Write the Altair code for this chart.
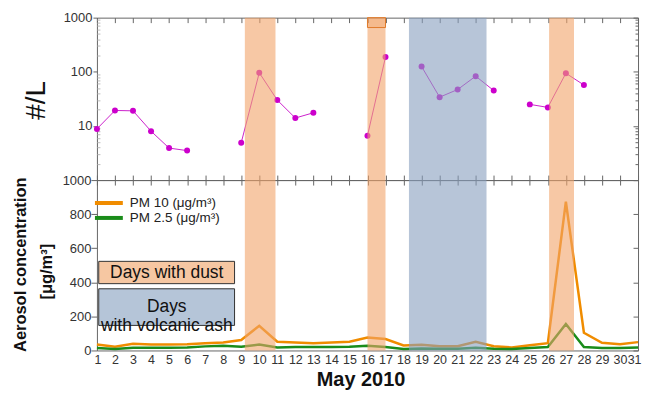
import altair as alt
import pandas as pd

# ---------------- data ----------------
days = list(range(1, 32))
# particle counts (#/L); None = no measurement
counts = [8.8, 19.3, 19.0, 8.0, 3.9, 3.5, None, None, 4.9, 96, 30, 14, 17.5, None, None,
          6.6, 187, None, 125, 34, 47, 83, 45, None, 25, 22, 94, 57, None, None, None]
pm10 = [35, 22, 39, 35, 35, 37, 43, 47, 61, 145, 51, 47, 43, 47, 51, 76, 67, 29, 33, 25,
        25, 51, 25, 18, 31, 43, 873, 104, 45, 37, 49]
pm25 = [14, 8, 16, 16, 16, 18, 24, 27, 22, 35, 18, 20, 20, 20, 22, 27, 20, 8, 12, 10,
        10, 16, 10, 8, 14, 20, 155, 20, 14, 14, 18]
dust_start = [9.2, 16.0, 26.07]
dust_end = [10.9, 17.0, 27.45]
ash_start = [18.3]
ash_end = [22.6]
hatch_start = [16.0]
hatch_end = [17.0]
hatch_low = [656]
hatch_high = [1000]
top_ticks = [10, 100, 1000]
top_major = [1, 10, 100, 1000]
top_minor = [2, 3, 4, 5, 6, 7, 8, 9, 20, 30, 40, 50, 60, 70, 80, 90,
             200, 300, 400, 500, 600, 700, 800, 900]
bottom_ticks = [0, 200, 400, 600, 800, 1000]
series_names = ["PM 10", "PM 2.5"]

# ---------------- layout constants ----------------
W = 543
H1 = 163
H2 = 171
FONT = "Liberation Sans"
AX = dict(domainColor="#666", tickColor="#666", labelColor="#333", labelFont=FONT,
          labelFontSize=13, grid=False, title=None)

# ---------------- tables ----------------
rows = []
seg = 0
prev = None
for d, c in zip(days, counts):
    if c is None:
        continue
    if prev is not None and d != prev + 1:
        seg += 1
    rows.append({"day": d, "count": c, "seg": seg})
    prev = d
cdf = pd.DataFrame(rows)

bands = pd.DataFrame({"start": dust_start + ash_start, "end": dust_end + ash_end,
                      "kind": ["dust"] * len(dust_start) + ["ash"] * len(ash_start)})
hatch = pd.DataFrame({"start": hatch_start, "end": hatch_end, "lo": hatch_low, "hi": hatch_high})
pm = pd.DataFrame({"day": days * 2, "value": pm10 + pm25,
                   "series": [series_names[0]] * 31 + [series_names[1]] * 31})
one = pd.DataFrame({"a": [0]})

xscale = alt.Scale(domain=[1, 31], nice=False, zero=False)
ytop = alt.Scale(type="log", domain=[1, 1000], nice=False)
ybot = alt.Scale(domain=[0, 1000], nice=False, zero=True)
band_color = alt.Color("kind:N", scale=alt.Scale(domain=["dust", "ash"],
                                                 range=["#f2a369", "#879ebe"]), legend=None)

# ---------------- top panel ----------------
t_line = alt.Chart(cdf).mark_line(color="#cc22cc", strokeWidth=1).encode(
    x=alt.X("day:Q", scale=xscale,
            axis=alt.Axis(orient="bottom", offset=-H1, values=days, labels=False, tickSize=5, **AX)),
    y=alt.Y("count:Q", scale=ytop,
            axis=alt.Axis(orient="left", values=top_ticks, format="d", tickSize=4, labelPadding=1, **AX)),
    detail="seg:N",
)
t_pts = alt.Chart(cdf).mark_circle(size=36, color="#cc00cc", opacity=1).encode(
    x=alt.X("day:Q", scale=xscale,
            axis=alt.Axis(orient="top", offset=-H1, values=days, labels=False, tickSize=5, **AX)),
    y=alt.Y("count:Q", scale=ytop,
            axis=alt.Axis(orient="right", offset=-W, values=top_minor, labels=False, domain=False,
                          tickSize=3, **{**AX, "tickColor": "#bbb"})),
)
t_bands = alt.Chart(bands).mark_rect(opacity=0.6).encode(
    x=alt.X("start:Q", scale=xscale, axis=None), x2="end:Q",
    y=alt.value(0), y2=alt.value(H1), color=band_color,
)
t_hatch = alt.Chart(hatch).mark_rect(fill="#f0a060", fillOpacity=0.35, stroke="#e07a2a",
                                     strokeWidth=1).encode(
    x=alt.X("start:Q", scale=xscale, axis=None), x2="end:Q",
    y=alt.Y("lo:Q", scale=ytop,
            axis=alt.Axis(orient="left", offset=-W, values=top_major, labels=False, tickSize=5, **AX)),
    y2="hi:Q",
)
t_minor_r = alt.Chart(cdf).mark_point(opacity=0).encode(
    x=alt.X("day:Q", scale=xscale, axis=None),
    y=alt.Y("count:Q", scale=ytop,
            axis=alt.Axis(orient="left", offset=-W, values=top_minor, labels=False, domain=False,
                          tickSize=3, **AX)),
)
t_title = alt.Chart(one).mark_text(angle=270, fontSize=28, font=FONT, color="#111").encode(
    text=alt.value("#/L"), x=alt.value(-60), y=alt.value(83))

top = alt.layer(t_line, t_pts, t_bands, t_hatch, t_minor_r, t_title).resolve_axis(
    x="independent", y="independent").properties(width=W, height=H1)

# ---------------- bottom panel ----------------
b_lines = alt.Chart(pm).mark_line(strokeWidth=2.5).encode(
    x=alt.X("day:Q", scale=xscale,
            axis=alt.Axis(orient="bottom", values=days, ticks=False, labelPadding=3,
                          labelOverlap=False, labelFlush=True, labelFlushOffset=3,
                          **{**AX, "labelFontSize": 12.5})),
    y=alt.Y("value:Q", scale=ybot,
            axis=alt.Axis(orient="left", values=bottom_ticks, format="d", tickSize=6, labelPadding=0, **AX)),
    color=alt.Color("series:N", scale=alt.Scale(domain=series_names, range=["#f08c00", "#1a8c1a"]),
                    legend=None),
    order=alt.Order("series:N", sort="descending"),
)
b_bands = alt.Chart(bands).mark_rect(opacity=0.6).encode(
    x=alt.X("start:Q", scale=xscale,
            axis=alt.Axis(orient="bottom", offset=-H2, values=days, labels=False, tickSize=5, **AX)),
    x2="end:Q", y=alt.value(0), y2=alt.value(H2), color=band_color,
)
boxes = pd.DataFrame({"x1": [1.1, 1.1], "x2": [8.63, 8.63], "y1": [392, 147], "y2": [523, 362],
                      "kind": ["dust", "ash"],
                      "label": ["Days with dust", "Days\nwith volcanic ash"],
                      "xc": [4.87, 4.87], "yc": [457, 254]})
b_boxes = alt.Chart(boxes).mark_rect(stroke="#333", strokeWidth=1).encode(
    x=alt.X("x1:Q", scale=xscale, axis=None), x2="x2:Q",
    y=alt.Y("y1:Q", scale=ybot,
            axis=alt.Axis(orient="left", offset=-W, values=bottom_ticks, labels=False, tickSize=5, **AX)),
    y2="y2:Q",
    color=alt.Color("kind:N", scale=alt.Scale(domain=["dust", "ash"], range=["#f6c7a2", "#b5c5d8"]),
                    legend=None),
)
b_box_text = alt.Chart(boxes).mark_text(fontSize=17.5, font=FONT, color="#111", lineBreak="\n",
                                        lineHeight=19).encode(
    x=alt.X("xc:Q", scale=xscale, axis=None), y=alt.Y("yc:Q", scale=ybot, axis=None), text="label:N")

b_leg_o = alt.Chart(one).mark_rule(color="#f08c00", strokeWidth=4).encode(
    x=alt.value(-2), x2=alt.value(26), y=alt.value(23))
b_leg_g = alt.Chart(one).mark_rule(color="#1a8c1a", strokeWidth=4).encode(
    x=alt.value(-2), x2=alt.value(26), y=alt.value(38))
b_leg_t1 = alt.Chart(one).mark_text(align="left", baseline="middle", fontSize=13.5, font=FONT,
                                    color="#222").encode(
    text=alt.value("PM 10 (μg/m³)"), x=alt.value(33), y=alt.value(23))
b_leg_t2 = alt.Chart(one).mark_text(align="left", baseline="middle", fontSize=13.5, font=FONT,
                                    color="#222").encode(
    text=alt.value("PM 2.5 (μg/m³)"), x=alt.value(33), y=alt.value(38))
b_t1 = alt.Chart(one).mark_text(angle=270, fontSize=16.5, fontWeight="bold", font=FONT,
                                color="#111").encode(
    text=alt.value("Aerosol concentration"), x=alt.value(-76.5), y=alt.value(85))
b_t2 = alt.Chart(one).mark_text(angle=270, fontSize=16.5, fontWeight="bold", font=FONT,
                                color="#111").encode(
    text=alt.value("[μg/m³]"), x=alt.value(-50), y=alt.value(92))
b_t3 = alt.Chart(one).mark_text(fontSize=20, fontWeight="bold", font=FONT, color="#111",
                                baseline="alphabetic").encode(
    text=alt.value("May 2010"), x=alt.value(265), y=alt.value(H2 + 36))

bottom = alt.layer(b_lines, b_bands, b_boxes, b_box_text, b_leg_o, b_leg_g, b_leg_t1, b_leg_t2,
                   b_t1, b_t2, b_t3).resolve_axis(x="independent", y="independent").resolve_scale(
    color="independent").properties(width=W, height=H2)

chart = alt.vconcat(top, bottom, spacing=0, bounds="flush").properties(
    padding={"left": 4.25, "top": 3, "right": 0, "bottom": 0}, background="white"
).configure_view(stroke=None)

chart.save("out.html", embed_options={"renderer": "svg", "actions": False})
